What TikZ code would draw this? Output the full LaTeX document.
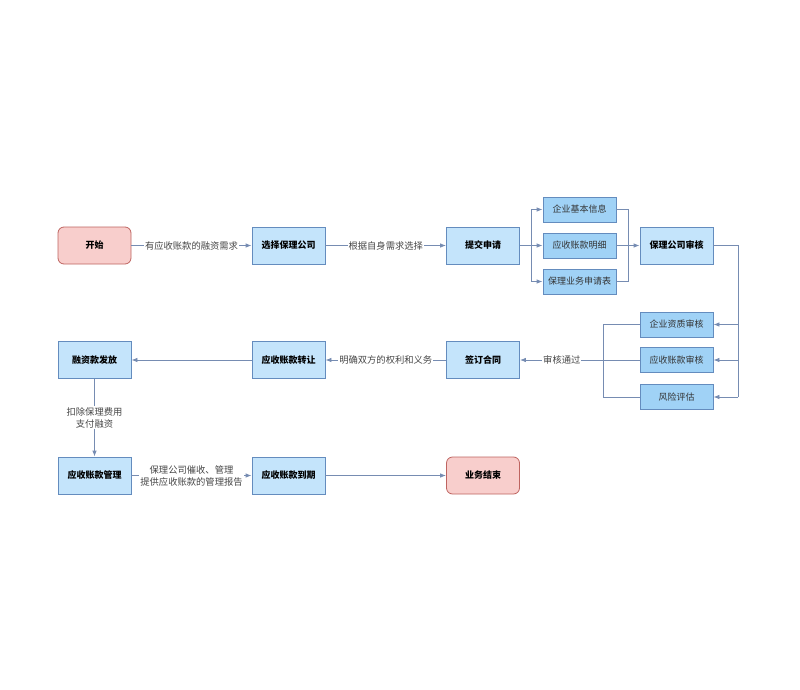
\documentclass[tikz,border=0pt]{standalone}
\usepackage{fontspec}
\newfontfamily\cjk{Noto Sans CJK SC}
\usetikzlibrary{arrows.meta}
\definecolor{linec}{RGB}{118,140,178}
\definecolor{boxline}{RGB}{100,140,190}
\definecolor{mainfill}{RGB}{196,228,251}
\definecolor{subfill}{RGB}{160,210,246}
\definecolor{redfill}{RGB}{248,206,204}
\definecolor{redline}{RGB}{190,100,96}
\definecolor{lbltext}{RGB}{70,70,70}
\begin{document}
\begin{tikzpicture}[x=1pt,y=-1pt,
  >={Latex[length=6pt,width=4.5pt]},
  every path/.style={line width=0.8pt},
  mainbox/.style={rectangle,draw=boxline,fill=mainfill,minimum width=73pt,minimum height=37pt,font=\cjk\bfseries\fontsize{9}{10}\selectfont},
  subbox/.style={rectangle,draw=boxline,fill=subfill,minimum width=73pt,minimum height=25pt,font=\cjk\fontsize{9}{10}\selectfont,text=black!80},
  endbox/.style={rectangle,rounded corners=6pt,draw=redline,fill=redfill,minimum width=73pt,minimum height=37pt,font=\cjk\bfseries\fontsize{9}{10}\selectfont},
  conn/.style={draw=linec},
  lbl/.style={fill=white,inner sep=1pt,text=lbltext,align=center,font=\cjk\fontsize{9.3}{12}\selectfont}]
\useasboundingbox (0,0) rectangle (800,690);
\node(start)[endbox] at (94.5,245.5){开始};
\node(choose)[mainbox] at (288.5,245.5){选择保理公司};
\node(apply)[mainbox] at (483,245.5){提交申请};
\node(info)[subbox] at (579.5,209.5){企业基本信息};
\node(detail)[subbox] at (579.5,245.5){应收账款明细};
\node(form)[subbox] at (579.5,281.5){保理业务申请表};
\node(audit)[mainbox] at (676.5,245.5){保理公司审核};
\node(qual)[subbox] at (676.5,324.5){企业资质审核};
\node(recv)[subbox] at (676.5,360){应收账款审核};
\node(risk)[subbox] at (676.5,397){风险评估};
\node(sign)[mainbox] at (483,360){签订合同};
\node(assign)[mainbox] at (288.5,360){应收账款转让};
\node(pay)[mainbox] at (94.5,360){融资款发放};
\node(manage)[mainbox] at (94.5,475.5){应收账款管理};
\node(due)[mainbox] at (288.5,475.5){应收账款到期};
\node(finish)[endbox] at (483,475.5){业务结束};
\coordinate(fork) at (531,245.5);
\coordinate(merge) at (628,245.5);
\coordinate(rbtop) at (738,245.5);
\coordinate(rb1) at (738,324.5);
\coordinate(rb2) at (738,360);
\coordinate(rb3) at (738,397);
\coordinate(lb1) at (603,324.5);
\coordinate(lb3) at (603,397);
\path[conn,->] (start) -- node[lbl]{有应收账款的融资需求} (choose);
\path[conn,->] (choose) -- node[lbl]{根据自身需求选择} (apply);
\path[conn] (apply) -- (fork);
\path[conn,->] (fork) |- (info);
\path[conn,->] (fork) -- (detail);
\path[conn,->] (fork) |- (form);
\path[conn] (info) -| (merge);
\path[conn] (form) -| (merge);
\path[conn,->] (detail) -- (audit);
\path[conn] (audit) -- (rbtop) -- (rb3);
\path[conn,->] (rb1) -- (qual);
\path[conn,->] (rb2) -- (recv);
\path[conn,->] (rb3) -- (risk);
\path[conn] (qual) -- (lb1) -- (lb3) -- (risk);
\path[conn,->] (recv) -- node[lbl,pos=0.65]{审核通过} (sign);
\path[conn,->] (sign) -- node[lbl]{明确双方的权利和义务} (assign);
\path[conn,->] (assign) -- (pay);
\path[conn,->] (pay) -- node[lbl]{扣除保理费用\\支付融资} (manage);
\path[conn,->] (manage) -- node[lbl]{保理公司催收、管理\\提供应收账款的管理报告} (due);
\path[conn,->] (due) -- (finish);
\end{tikzpicture}
\end{document}
